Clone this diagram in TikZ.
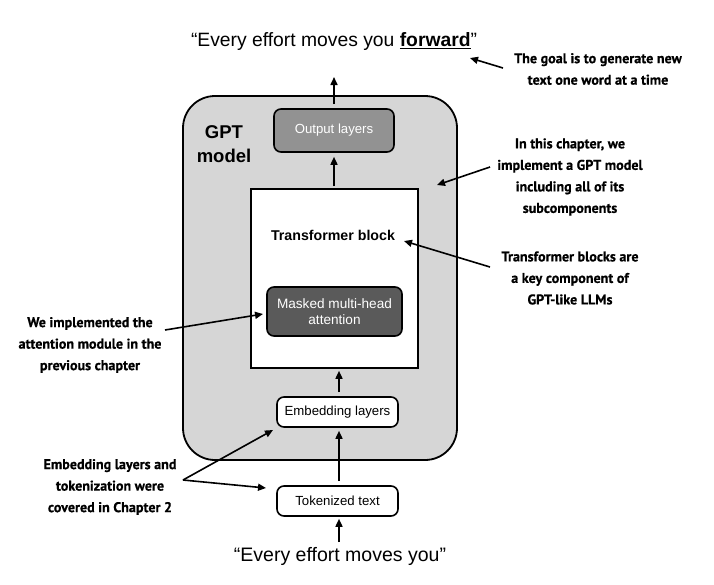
\documentclass[tikz,border=0pt]{standalone}
\usepackage{fontspec}
\setmainfont{Liberation Sans}
\newfontfamily\annfont{PT Sans}[BoldFeatures={FakeBold=0.6}]
\usetikzlibrary{arrows.meta}
\definecolor{outerfill}{RGB}{214,214,214}
\definecolor{outfill}{RGB}{146,146,146}
\definecolor{mhafill}{RGB}{90,90,90}
\begin{document}
\begin{tikzpicture}[x=1pt,y=-1pt,
  box/.style={draw=black, line width=1.6pt, rounded corners=7pt, inner sep=0pt, align=center, font=\fontsize{13.2}{15.5}\selectfont},
  ann/.style={font=\annfont\bfseries\fontsize{14.1}{21.5}\selectfont, align=center, inner sep=0pt},
  arr/.style={-{Triangle[length=8pt,width=7pt]}, line width=1.6pt},
]
\useasboundingbox (0,0) rectangle (714,584);
% titles
\node (toptext) at (334,42) {\fontsize{19.3}{24}\selectfont “Every effort moves you \textbf{\underline{forward}}”};
\node (bottext) at (340,556) {\fontsize{19.5}{24}\selectfont “Every effort moves you”};
% outer GPT box
\node[draw=black, fill=outerfill, line width=1.8pt, rounded corners=32pt, minimum width=274pt, minimum height=364pt, inner sep=0pt] (gpt) at (320,278) {};
\node[font=\bfseries\fontsize{18.5}{24}\selectfont, align=center, inner sep=0pt] (gptlabel) at (224,144) {GPT\\model};
% boxes
\node[box, fill=outfill, text=white, minimum width=120pt, minimum height=43pt] (outl) at (334,130.5) {Output layers};
\node[draw=black, fill=white, line width=1.6pt, minimum width=167pt, minimum height=179pt, inner sep=0pt] (tb) at (334.5,278.5) {};
\node[font=\bfseries\fontsize{14.2}{16}\selectfont, inner sep=0pt] (tblabel) at (333,235) {Transformer block};
\node[box, fill=mhafill, text=white, minimum width=135pt, minimum height=49pt, font=\fontsize{13.6}{16.5}\selectfont] (mha) at (334.5,311.5) {Masked multi-head\\attention};
\node[box, fill=white, minimum width=121pt, minimum height=30pt] (emb) at (337.5,412) {Embedding layers};
\node[box, fill=white, minimum width=121pt, minimum height=30pt] (tok) at (337.5,501) {Tokenized text};
% main flow arrows
\draw[arr, shorten <=4pt, shorten >=3pt] (tok.north -| 339,0) -- (emb.south -| 339,0);
\draw[arr, shorten <=4pt, shorten >=2pt] (emb.north -| 339,0) -- (tb.south -| 339,0);
\draw[arr, shorten >=2pt] (339,542) coordinate (botstart) -- (tok.south -| botstart);
\draw[arr, shorten <=2pt, shorten >=4pt] (tb.north -| 334,0) -- (outl.south -| 334,0);
\draw[arr, shorten <=4pt] (outl.north -| 334,0) -- (334,77) coordinate (topend);
% annotations
\node[ann] (a1) at (598,69) {The goal is to generate new\\text one word at a time};
\node[ann] (a2) at (570,177) {In this chapter, we\\implement a GPT model\\including all of its\\subcomponents};
\node[ann] (a3) at (570,278) {Transformer blocks are\\a key component of\\GPT-like LLMs};
\node[ann] (a4) at (90,345) {We implemented the\\attention module in the\\previous chapter};
\node[ann] (a5) at (110,487) {Embedding layers and\\tokenization were\\covered in Chapter 2};
\coordinate (h1) at (470,58);
\coordinate (h2) at (437,185);
\coordinate (h3) at (404,241);
\coordinate (h4) at (263,314);
\coordinate (h5a) at (273,430);
\coordinate (h5b) at (266,488);
\coordinate (s1) at (503,68);
\coordinate (s2) at (490,167);
\coordinate (s3) at (490,267);
\coordinate (s4) at (165,330);
\coordinate (s5) at (183,480);
\draw[arr] (s1) -- (h1);
\draw[arr] (s2) -- (h2);
\draw[arr] (s3) -- (h3);
\draw[arr] (s4) -- (h4);
\draw[arr] (s5) -- (h5a);
\draw[arr] (s5) -- (h5b);
\end{tikzpicture}
\end{document}
